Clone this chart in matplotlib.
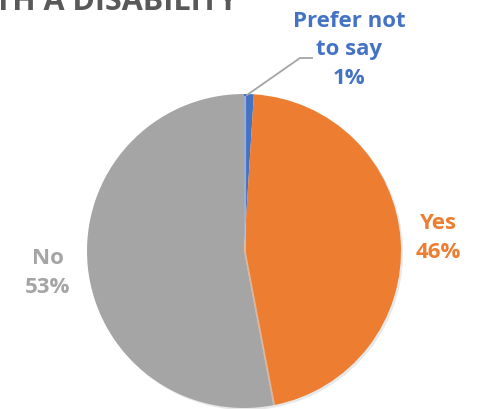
import matplotlib
matplotlib.use("Agg")
import matplotlib.pyplot as plt
import matplotlib.patheffects as pe

categories = ["Prefer not\nto say", "Yes", "No"]
values = [1, 46, 53]
colors = ["#4472C4", "#ED7D31", "#A5A5A5"]
title = "PEOPLE WITH A DISABILITY"

W, H = 482, 409
fig = plt.figure(figsize=(W / 100, H / 100), dpi=100)
ax = fig.add_axes([0, 0, 1, 1])

cx, cy, r = 244, H - 251, 157
wedges, _ = ax.pie(values, colors=colors, startangle=90, counterclock=False,
                   center=(cx, cy), radius=r, frame=True,
                   wedgeprops=dict(linewidth=0))
for w in wedges:
    w.set_path_effects([pe.SimplePatchShadow(offset=(1.5, -1.5), shadow_rgbFace="#d9d9d9", alpha=0.6), pe.Normal()])
ax.set_xlim(0, W)
ax.set_ylim(0, H)
ax.set_aspect("equal")
ax.axis("off")

font = "Open Sans"
total = sum(values)
pos = [(349, H - 50), (438, H - 238), (48, H - 273)]
for cat, v, c, (x, y) in zip(categories, values, colors, pos):
    ax.text(x, y, f"{cat}\n{round(100 * v / total)}%", color=c, ha="center", va="center",
            fontsize=16, fontweight="bold", family=font, linespacing=1.45)

# leader line for small slice
ax.plot([247, 300, 312], [H - 95, H - 58, H - 58], color="#A5A5A5", lw=1.3)

ax.text(238, H - 10, title, ha="right", va="baseline", fontsize=22, fontweight="bold",
        color="#595959", family=font)

fig.savefig("out.png", dpi=100)
